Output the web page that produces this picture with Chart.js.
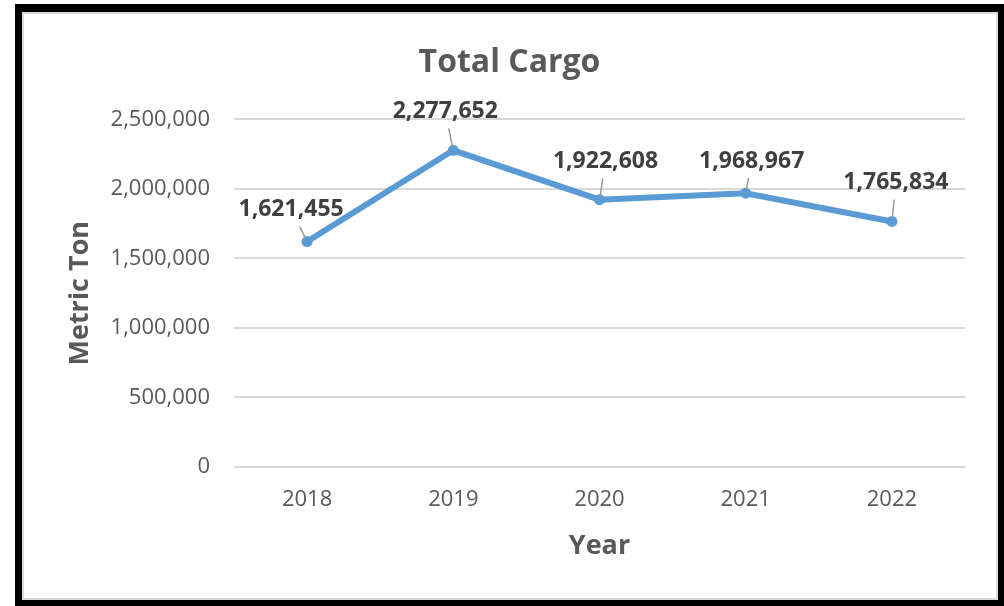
<!DOCTYPE html>
<html>
<head>
<meta charset="utf-8">
<title>Total Cargo</title>
<script src="https://cdn.jsdelivr.net/npm/chart.js@4.4.1/dist/chart.umd.min.js"></script>
<style>
  html, body { margin: 0; padding: 0; background: #fff; overflow: hidden; }
  .frame {
    position: absolute;
    left: 15px; top: 4px;
    width: 976px; height: 588px;
    border-style: solid;
    border-color: #000;
    border-width: 8px 7px 7px 7px;
  }
  .frame .inner {
    position: absolute;
    left: 0; top: 0; right: 0; bottom: 0;
    border: 2px solid #d9d9d9;
  }
  .chart-box { position: absolute; left: 0; top: 0; width: 1004px; height: 606px; }
</style>
</head>
<body>
<div class="frame"><div class="inner"></div></div>
<div class="chart-box"><canvas id="cargo-chart" width="1004" height="606"></canvas></div>
<script>
const years = ["2018", "2019", "2020", "2021", "2022"];
const cargoTons = [1621455, 2277652, 1922608, 1968967, 1765834];
const yTicks = [0, 500000, 1000000, 1500000, 2000000, 2500000];

const FONT = "'Open Sans', 'Noto Sans', sans-serif";
const fmt = (v) => v.toLocaleString("en-US");

// Excel-style data callouts: bold value above each point with a short leader line
const valueLabels = {
  id: "valueLabels",
  afterDatasetsDraw(chart, args, opts) {
    const ctx = chart.ctx;
    const meta = chart.getDatasetMeta(0);
    ctx.save();
    ctx.font = "bold 23px " + FONT;
    ctx.textAlign = "center";
    ctx.textBaseline = "middle";
    meta.data.forEach((pt, i) => {
      const [dx, dy] = opts.offsets[i];
      const cx = pt.x + dx;
      const cy = pt.y + dy;
      // leader line from the marker up to just under the label
      const endY = cy + 17;
      const t = (pt.y - endY) / (pt.y - cy);
      ctx.strokeStyle = "#999999";
      ctx.lineWidth = 1.5;
      ctx.beginPath();
      ctx.moveTo(pt.x + dx * 0.12, pt.y - 4);
      ctx.lineTo(pt.x + dx * t, endY);
      ctx.stroke();
      ctx.fillStyle = "#404040";
      ctx.fillText(fmt(chart.data.datasets[0].data[i]), cx, cy);
    });
    ctx.restore();
  }
};

new Chart(document.getElementById("cargo-chart"), {
  type: "line",
  data: {
    labels: years,
    datasets: [{
      label: "Total Cargo",
      data: cargoTons,
      borderColor: "#5b9bd5",
      backgroundColor: "#5b9bd5",
      borderWidth: 6,
      pointRadius: 5.5,
      pointBorderWidth: 0,
      tension: 0,
      fill: false
    }]
  },
  options: {
    responsive: false,
    animation: false,
    devicePixelRatio: 1,
    layout: { padding: { left: 54, right: 39, top: 2, bottom: 43 } },
    plugins: {
      legend: { display: false },
      tooltip: { enabled: false },
      title: {
        display: true,
        text: "Total Cargo",
        color: "#595959",
        font: { family: FONT, size: 32, weight: "bold" },
        padding: { top: 42, bottom: 37 }
      },
      valueLabels: {
        offsets: [[-16, -32], [-8, -39], [6, -38], [6, -32], [4, -39]]
      }
    },
    scales: {
      x: {
        offset: true,
        afterFit(scale) {
          scale.height = 96;
        },
        grid: { display: false, drawTicks: false },
        border: { display: false },
        ticks: {
          color: "#595959",
          padding: 20,
          font: { family: FONT, size: 22 }
        },
        title: {
          display: true,
          text: "Year",
          color: "#595959",
          font: { family: FONT, size: 27, weight: "bold" },
          padding: { top: 15, bottom: 0 }
        }
      },
      y: {
        min: 0,
        max: 2500000,
        afterBuildTicks(scale) {
          scale.ticks = yTicks.map((v) => ({ value: v }));
        },
        afterFit(scale) {
          scale.width = 180;
        },
        grid: { color: "#d9d9d9", lineWidth: 2, drawTicks: false },
        border: { display: false },
        ticks: {
          color: "#595959",
          padding: 24,
          font: { family: FONT, size: 22 },
          callback: (v) => fmt(v)
        },
        title: {
          display: true,
          text: "Metric Ton",
          color: "#595959",
          font: { family: FONT, size: 27, weight: "bold" },
          padding: { top: 10, bottom: 0 }
        }
      }
    }
  },
  plugins: [valueLabels]
});
</script>
</body>
</html>
